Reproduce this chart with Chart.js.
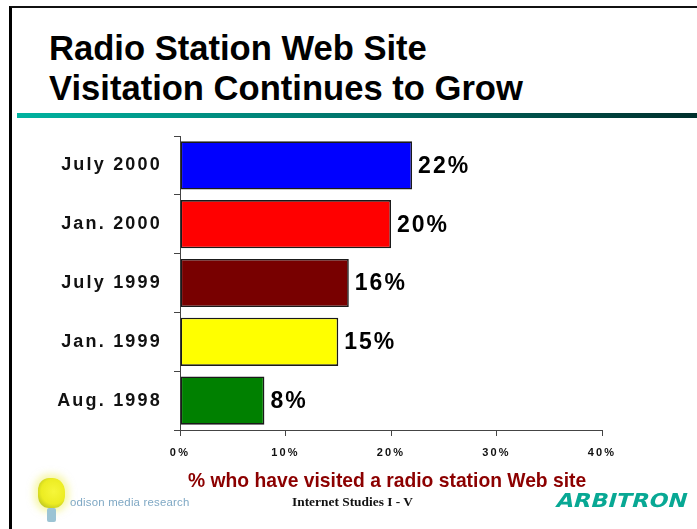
<!DOCTYPE html>
<html>
<head>
<meta charset="utf-8">
<script src="https://cdn.jsdelivr.net/npm/chart.js@4.4.1/dist/chart.umd.min.js"></script>
<style>
  html, body { margin: 0; padding: 0; background: #fff; }
  body { width: 697px; height: 529px; position: relative; overflow: hidden; font-family: "Liberation Sans", Arial, sans-serif; }
  #frame { position: absolute; left: 9px; top: 6px; right: -10px; bottom: -10px; border-left: 3px solid #000; border-top: 2px solid #111; }
  #rule { position: absolute; left: 17px; top: 113px; width: 680px; height: 5px; background: linear-gradient(to right, #00b3a0, #00736a 50%, #002f2c); }
  #title { position: absolute; left: 49px; top: 27.5px; font-weight: bold; font-size: 34.6px; line-height: 40px; color: #000; white-space: nowrap; }
  #chart { position: absolute; left: 0; top: 0; }
  .foot { position: absolute; white-space: nowrap; line-height: 1; }
  #caption { left: 188px; top: 471px; font-size: 19.3px; font-weight: bold; color: #8c0000; }
  #study { left: 292px; top: 495px; font-family: "Liberation Serif", "Times New Roman", serif; font-size: 13.4px; font-weight: bold; color: #111; }
  #arbitron { left: 555px; top: 491px; font-family: "DejaVu Sans", sans-serif; font-size: 19.2px; font-weight: bold; color: #08a894; transform-origin: left 16px; transform: skewX(-16deg) scaleX(1.17); }
  #bulb { position: absolute; left: 38px; top: 478px; width: 27px; height: 30px; border-radius: 40% 45% 40% 40%; background: radial-gradient(circle at 58% 45%, #f6f63a 0%, #ecec22 55%, #c0c820 80%, #8ea024 100%); box-shadow: 0 0 7px 4px rgba(240, 240, 90, 0.5); }
  #stem { position: absolute; left: 47px; top: 508px; width: 9px; height: 14px; border-radius: 2px; background: #9cc4d4; filter: blur(0.6px); }
  #odison { left: 70px; top: 497px; font-size: 11.4px; color: #7fa8c4; filter: blur(0.6px); letter-spacing: 0.2px; }
</style>
</head>
<body>
<div id="frame"></div>
<div id="title">Radio Station Web Site<br>Visitation Continues to Grow</div>
<div id="rule"></div>
<canvas id="chart" width="697" height="529"></canvas>
<div id="caption" class="foot">% who have visited a radio station Web site</div>
<div id="bulb"></div>
<div id="stem"></div>
<div id="odison" class="foot">odison media research</div>
<div id="study" class="foot">Internet Studies I - V</div>
<div id="arbitron" class="foot">ARBITRON</div>

<script>
// survey waves, newest first (top bar)
const waves = ['July 2000', 'Jan. 2000', 'July 1999', 'Jan. 1999', 'Aug. 1998'];
const visitedPct = [22, 20, 16, 15, 8];
const barColors = ['#0000ff', '#ff0000', '#780000', '#ffff00', '#008000'];
const xTickValues = [0, 10, 20, 30, 40];

// spaced-out lettering used for every label on the canvas
const spacedText = {
    id: 'spacedText',
    beforeDraw(chart) { chart.ctx.letterSpacing = '2.2px'; },
    afterDraw(chart) { chart.ctx.letterSpacing = '0px'; }
};

// percentage written just past the end of each bar
const barValues = {
    id: 'barValues',
    afterDatasetsDraw(chart) {
        const ctx = chart.ctx;
        const meta = chart.getDatasetMeta(0);
        ctx.save();
        ctx.letterSpacing = '2px';
        ctx.font = 'bold 23px "Liberation Sans", Arial, sans-serif';
        ctx.fillStyle = '#000';
        ctx.textAlign = 'left';
        ctx.textBaseline = 'middle';
        meta.data.forEach((bar, i) => {
            ctx.fillText(visitedPct[i] + '%', bar.x + 6, bar.y + 1);
        });
        ctx.restore();
    }
};

new Chart(document.getElementById('chart').getContext('2d'), {
    type: 'bar',
    data: {
        labels: waves,
        datasets: [{
            data: visitedPct,
            backgroundColor: barColors,
            borderColor: '#1a1a1a',
            borderWidth: 1.6,
            borderSkipped: false,
            barPercentage: 0.82,
            categoryPercentage: 1
        }]
    },
    options: {
        indexAxis: 'y',
        responsive: false,
        animation: false,
        devicePixelRatio: 1,
        layout: { padding: { left: 0, right: 95, top: 136, bottom: 69 } },
        plugins: {
            legend: { display: false },
            tooltip: { enabled: false }
        },
        scales: {
            y: {
                afterFit(scale) { scale.width = 180; },
                grid: { drawOnChartArea: false, tickLength: 6, color: '#444' },
                border: { color: '#444', width: 1 },
                ticks: {
                    color: '#111',
                    padding: 12,
                    font: { family: '"Liberation Sans", Arial, sans-serif', size: 18, weight: 'bold' }
                }
            },
            x: {
                min: 0,
                max: 40,
                afterFit(scale) { scale.height = 30; },
                afterBuildTicks(scale) { scale.ticks = xTickValues.map(v => ({ value: v })); },
                grid: { drawOnChartArea: false, tickLength: 6, color: '#444' },
                border: { color: '#444', width: 1 },
                ticks: {
                    color: '#111',
                    padding: 10,
                    font: { family: '"Liberation Sans", Arial, sans-serif', size: 11, weight: 'bold' },
                    callback: v => v + '%'
                }
            }
        }
    },
    plugins: [spacedText, barValues]
});
</script>
</body>
</html>
